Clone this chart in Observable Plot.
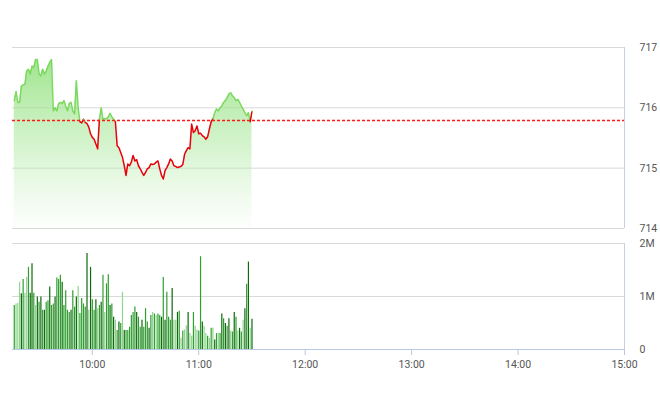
<!DOCTYPE html>
<html><head><meta charset="utf-8">
<script src="https://cdn.jsdelivr.net/npm/d3@7"></script>
<script src="https://cdn.jsdelivr.net/npm/@observablehq/plot@0.6"></script>
<style>
body{margin:0;background:#fff;}
#chart svg{display:block;}
</style>
</head><body><div id="chart"></div>
<script>
const times = [
"09:16","09:17","09:18","09:19","09:20","09:21","09:22","09:23","09:24","09:25",
"09:26","09:27","09:28","09:29","09:30","09:31","09:32","09:33","09:34","09:35",
"09:36","09:37","09:38","09:39","09:40","09:41","09:42","09:43","09:44","09:45",
"09:46","09:47","09:48","09:49","09:50","09:51","09:52","09:53","09:54","09:55",
"09:56","09:57","09:58","09:59","10:00","10:01","10:02","10:03","10:04","10:05",
"10:06","10:07","10:08","10:09","10:10","10:11","10:12","10:13","10:14","10:15",
"10:16","10:17","10:18","10:19","10:20","10:21","10:22","10:23","10:24","10:25",
"10:26","10:27","10:28","10:29","10:30","10:31","10:32","10:33","10:34","10:35",
"10:36","10:37","10:38","10:39","10:40","10:41","10:42","10:43","10:44","10:45",
"10:46","10:47","10:48","10:49","10:50","10:51","10:52","10:53","10:54","10:55",
"10:56","10:57","10:58","10:59","11:00","11:01","11:02","11:03","11:04","11:05",
"11:06","11:07","11:08","11:09","11:10","11:11","11:12","11:13","11:14","11:15",
"11:16","11:17","11:18","11:19","11:20","11:21","11:22","11:23","11:24","11:25",
"11:26","11:27","11:28","11:29","11:30"];

const prices = [
716.12,716.27,716.09,716.09,716.36,716.38,716.39,716.61,716.64,716.56,
716.69,716.67,716.80,716.80,716.56,716.53,716.64,716.56,716.61,716.69,
716.75,716.80,715.95,716.00,715.95,716.07,716.09,716.07,716.12,716.03,
715.95,716.07,716.09,715.95,715.90,716.45,716.00,715.77,715.75,715.81,
715.76,715.74,715.68,715.57,715.51,715.48,715.40,715.32,715.81,716.00,
715.81,715.82,715.82,715.85,715.91,715.85,715.81,715.77,715.37,715.34,
715.26,715.18,715.04,714.88,715.07,715.04,715.10,715.21,715.12,715.14,
715.04,714.99,714.93,714.88,714.93,714.99,715.01,715.07,715.06,715.07,
715.10,715.12,714.99,714.88,714.82,714.96,715.01,715.07,715.15,715.12,
715.04,715.03,715.01,715.02,715.03,715.06,715.23,715.29,715.34,715.32,
715.73,715.59,715.62,715.70,715.57,715.58,715.54,715.52,715.48,715.52,
715.65,715.77,715.82,715.92,715.98,715.95,716.00,716.03,716.09,716.12,
716.17,716.23,716.25,716.20,716.17,716.12,716.14,716.09,716.03,715.98,
715.92,715.87,715.92,715.77,715.94];

// volume in millions of shares
const volumes = [
0.83,0.86,0.87,1.27,1.05,1.32,1.06,1.36,1.55,1.06,
1.62,1.06,0.83,0.99,0.89,0.99,0.74,0.74,0.89,0.92,
1.18,0.83,0.86,0.99,1.35,1.32,1.40,1.27,0.83,1.11,
0.74,0.70,0.74,1.11,0.80,0.99,1.19,0.68,0.96,0.86,
0.80,1.81,0.74,1.55,0.94,0.74,0.94,0.77,0.83,0.89,
1.40,0.70,1.24,1.41,0.83,0.86,0.61,0.55,0.36,0.52,
0.49,1.08,0.36,0.36,0.36,0.42,0.64,0.70,0.80,0.70,
0.61,0.42,0.55,0.42,0.77,0.52,0.40,0.64,0.70,0.67,
0.64,0.67,0.64,0.61,1.36,0.55,1.08,0.61,0.55,1.15,
0.55,0.55,0.70,0.72,0.21,0.35,0.37,0.45,0.70,0.30,
0.25,0.70,0.44,0.37,0.35,1.75,0.52,0.44,0.30,0.25,
0.21,0.40,0.40,0.18,0.30,0.30,0.30,0.67,0.58,0.49,
0.44,0.58,0.35,0.33,0.70,0.61,0.35,0.40,0.33,0.55,
0.77,1.23,1.65,0.40,0.57];

// order-flow tone per bar: S strong, N normal, W weak
const tones = [
"N","W","W","W","S","N","W","W","N","S",
"S","N","W","S","N","S","N","S","N","N",
"S","N","N","S","N","N","N","S","N","N",
"N","N","S","N","N","S","W","N","N","N",
"N","S","W","S","N","N","S","W","N","S",
"N","W","N","N","S","N","S","W","N","S",
"N","W","S","N","N","N","N","N","N","S",
"N","N","S","N","N","N","S","N","W","N",
"W","N","N","S","N","S","N","N","N","S",
"W","W","S","N","W","N","W","W","S","W",
"W","N","W","W","N","N","S","W","W","N",
"W","N","W","S","N","W","N","S","N","S",
"N","S","W","N","S","N","W","S","N","W",
"S","N","S","W","S"];

const refPrice = 715.79;
const priceTicks = [714, 715, 716, 717];
const volumeTicks = [0, 1, 2];
const hourTicks = ["10:00","11:00","12:00","13:00","14:00","15:00"];
const sessionStart = "09:15", sessionEnd = "15:00";

const parseT = s => { const [h, m] = s.split(":").map(Number); return new Date(2024, 0, 2, h, m); };
const rows = times.map((t, i) => ({time: parseT(t), price: prices[i], vol: volumes[i], tone: tones[i]}));
const xDomain = [parseT(sessionStart), parseT(sessionEnd)];
const fmt = d3.timeFormat("%H:%M");
const FONT = "'Liberation Sans Narrow', Roboto, sans-serif";
const baseStyle = {fontFamily: FONT, fontSize: "10.5px", color: "#555", background: "transparent"};

const gradient = () => {
  const defs = d3.create("svg:defs");
  const g = defs.append("linearGradient").attr("id", "priceFill")
    .attr("x1", 0).attr("x2", 0).attr("y1", 0).attr("y2", 1);
  g.append("stop").attr("offset", "0%").attr("stop-color", "#8fe07a").attr("stop-opacity", 0.85);
  g.append("stop").attr("offset", "55%").attr("stop-color", "#a8e89a").attr("stop-opacity", 0.45);
  g.append("stop").attr("offset", "100%").attr("stop-color", "#c8f0c0").attr("stop-opacity", 0.05);
  return defs.node();
};

const pricePlot = Plot.plot({
  width: 660, height: 236,
  marginTop: 47, marginBottom: 8, marginLeft: 12, marginRight: 36,
  style: baseStyle,
  x: {type: "time", domain: xDomain, axis: null},
  y: {domain: [priceTicks[0], priceTicks[priceTicks.length - 1]], axis: "right", ticks: priceTicks,
      tickFormat: d3.format("d"), tickSize: 0, tickPadding: 15, label: null},
  marks: [
    gradient,
    Plot.ruleY(priceTicks, {stroke: "#d9d9d9"}),
    Plot.ruleX([xDomain[1]], {stroke: "#c5d0e3"}),
    Plot.areaY(rows, {x: "time", y1: priceTicks[0], y2: "price", fill: "url(#priceFill)"}),
    Plot.lineY(rows, {x: "time", y: "price", z: null,
      stroke: d => d.price >= refPrice ? "#7bd95e" : "#e8000b", strokeWidth: 1.5}),
    Plot.ruleY([refPrice], {stroke: "#ff1a1a", strokeDasharray: "3,2", strokeWidth: 1.5})
  ]
});

const volPlot = Plot.plot({
  width: 660, height: 176,
  marginTop: 7, marginBottom: 63, marginLeft: 12, marginRight: 36,
  style: baseStyle,
  x: {type: "time", domain: xDomain, ticks: hourTicks.map(parseT), tickFormat: fmt,
      tickSize: 6, tickPadding: 5, label: null},
  y: {domain: [volumeTicks[0], volumeTicks[volumeTicks.length - 1]], axis: "right", ticks: volumeTicks,
      tickFormat: d => d ? d + "M" : "0", tickSize: 0, tickPadding: 15, label: null},
  color: {domain: ["S", "N", "W"], range: ["#0c6a0c", "#2e9e2e", "#8fd48f"]},
  marks: [
    Plot.ruleY(volumeTicks.slice(1), {stroke: "#d9d9d9"}),
    Plot.ruleX([xDomain[1]], {stroke: "#c5d0e3"}),
    Plot.ruleX(rows, {x: "time", y1: volumeTicks[0], y2: "vol", stroke: "tone", strokeWidth: 1.2}),
    Plot.ruleY([volumeTicks[0]], {stroke: "#b9c9e3"})
  ]
});

d3.select(volPlot).selectAll('[aria-label="x-axis tick"]').attr("stroke", "#b9c9e3");
d3.select(volPlot).selectAll('.tick line').attr("stroke", "#b9c9e3");

const host = document.getElementById("chart");
host.append(pricePlot);
host.append(volPlot);
</script>
</body></html>
